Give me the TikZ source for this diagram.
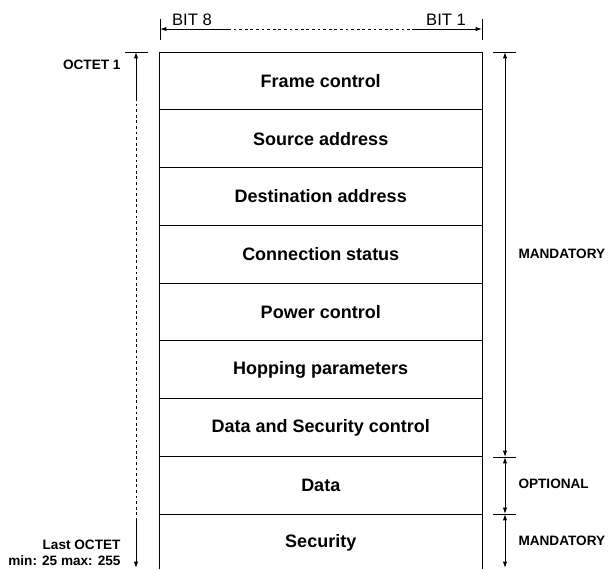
\documentclass[tikz,border=0pt]{standalone}
\usepackage{fontspec}
\setmainfont{Liberation Sans}
\usetikzlibrary{arrows.meta}
\begin{document}
\begin{tikzpicture}[x=0.5pt,y=-0.5pt,line width=0.5pt,
  rowlabel/.style={font=\fontsize{9}{10}\selectfont\bfseries,anchor=center,inner sep=0pt},
  sidelabel/.style={font=\fontsize{6.8}{8}\selectfont\bfseries,inner sep=0pt},
  bitlabel/.style={font=\fontsize{8.3}{10}\selectfont,inner sep=0pt},
  tip/.tip={Latex[length=3.2pt,width=2.2pt]},
  dimline/.style={tip-tip},
  dashpart/.style={dash pattern=on 1.4pt off 1.4pt}]
\useasboundingbox (0,0) rectangle (608,569);
% table
\draw (159.5,569) -- (159.5,52) -- (482,52) -- (482,569);
\foreach \yy in {109.75,167.5,225.25,283,340.75,398.5,456.25,514}
  \draw (159.5,\yy) -- (482,\yy);
\node[rowlabel] (r1) at (320.75,80.9) {Frame control};
\node[rowlabel] (r2) at (320.75,138.6) {Source address};
\node[rowlabel] (r3) at (320.75,196.4) {Destination address};
\node[rowlabel] (r4) at (320.75,254.1) {Connection status};
\node[rowlabel] (r5) at (320.75,311.9) {Power control};
\node[rowlabel] (r6) at (320.75,369.6) {Hopping parameters};
\node[rowlabel] (r7) at (320.75,427.4) {Data and Security control};
\node[rowlabel] (r8) at (320.75,485.1) {Data};
\node[rowlabel] (r9) at (320.75,542.9) {Security};
% top bit dimension
\coordinate (bl) at (160,29);
\coordinate (bls) at (228,29);
\coordinate (brs) at (412,29);
\coordinate (br) at (482,29);
\draw (160,19) -- (160,40);
\draw (482,19) -- (482,40);
\draw[tip-] (bl) -- (bls);
\draw[dashpart] (bls) -- (brs);
\draw[-tip] (brs) -- (br);
\node[bitlabel] (b8) at (192,20) {BIT 8};
\node[bitlabel] (b1) at (446,20) {BIT 1};
% left octet dimension
\draw (125,52) -- (148,52);
\coordinate (lt) at (136,52);
\coordinate (lts) at (136,98);
\coordinate (lbs) at (136,520);
\coordinate (lb) at (136,568);
\draw[tip-] (lt) -- (lts);
\draw[dashpart] (lts) -- (lbs);
\draw[-tip] (lbs) -- (lb);
\node[sidelabel,anchor=east] (o1) at (121,65) {OCTET 1};
\node[sidelabel,anchor=east,align=right] (ol) at (121,553) {Last OCTET\\min: 25 max: 255};
% right dimensions
\draw (493,52) -- (516,52);
\draw (493,457) -- (516,457);
\draw (493,514) -- (516,514);
\coordinate (ra) at (505,52);
\coordinate (rb) at (505,457);
\coordinate (rc) at (505,514);
\coordinate (rd) at (505,568);
\draw[dimline] (ra) -- (rb);
\draw[dimline] (rb) -- (rc);
\draw[dimline] (rc) -- (rd);
\node[sidelabel,anchor=west] (m1) at (518,254) {MANDATORY};
\node[sidelabel,anchor=west] (op) at (518,484) {OPTIONAL};
\node[sidelabel,anchor=west] (m2) at (518,541) {MANDATORY};
\end{tikzpicture}
\end{document}
